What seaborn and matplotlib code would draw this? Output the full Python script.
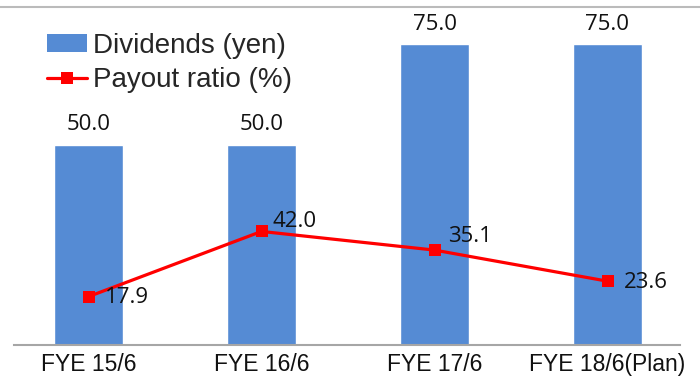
import numpy as np
import matplotlib
matplotlib.use("Agg")
import matplotlib.pyplot as plt
import seaborn as sns
from matplotlib.lines import Line2D
from matplotlib.patches import Patch

# data
categories = ["FYE 15/6", "FYE 16/6", "FYE 17/6", "FYE 18/6(Plan)"]
dividends = [50.0, 50.0, 75.0, 75.0]
payout = [17.9, 42.0, 35.1, 23.6]
# label offsets (points) for the payout labels
payout_offsets = [(12, -1), (8, 7), (10, 10), (12, -1)]

bar_color = "#558BD4"
line_color = "#FF0000"

sns.set_style("white")
plt.rcParams["font.family"] = ["Liberation Sans", "DejaVu Sans"]

fig = plt.figure(figsize=(7, 3.79), dpi=100)
ax = fig.add_axes([2 / 700, 34 / 379, 692 / 700, 338 / 379])

sns.barplot(x=categories, y=dividends, ax=ax, color=bar_color, width=0.4,
            saturation=1)
ax.set_xlim(-0.5, 3.5)
ax.set_ylim(0, 84.3)

for i, v in enumerate(dividends):
    ax.annotate(f"{v:.1f}", (i, v), xytext=(0, 7), textcoords="offset points",
                ha="center", va="bottom", fontsize=16, family="Open Sans",
                color="#111111")

ax2 = ax.twinx()
sns.lineplot(x=np.arange(len(categories)), y=payout, ax=ax2, color=line_color,
             linewidth=2.3, marker="s", markersize=8, markeredgewidth=0)
ax2.set_ylim(0, 125)
for i, v in enumerate(payout):
    ax2.annotate(f"{v:.1f}", (i, v), xytext=payout_offsets[i],
                 textcoords="offset points", ha="left", va="center",
                 fontsize=16, family="Open Sans", color="#111111")

for a in (ax, ax2):
    a.set_yticks([])
    a.set_ylabel("")
    for s in ("left", "right", "top"):
        a.spines[s].set_visible(False)
ax2.spines["bottom"].set_visible(False)

ax.spines["bottom"].set_color("#A6A6A6")
ax.spines["bottom"].set_linewidth(1.5)
ax.spines["bottom"].set_bounds(-0.43, 3.42)
ax.set_xticks(range(len(categories)))
ax.set_xticklabels(categories, fontsize=16.5)
ax.tick_params(axis="x", which="major", length=0, pad=6, colors="#111111")
ax.set_xticks([0.5, 1.5, 2.5], minor=True)
ax.tick_params(axis="x", which="minor", length=6, width=1.3, color="#A6A6A6",
               direction="out")

# thin frame line at the top of the image
fig.add_artist(Line2D([0, 1], [1 - 7 / 379, 1 - 7 / 379], color="#BBBBBB",
                      linewidth=1.5, transform=fig.transFigure))

handles = [Patch(facecolor=bar_color, edgecolor="none"),
           Line2D([], [], color=line_color, linewidth=2.3, marker="s",
                  markersize=8, markeredgewidth=0)]
fig.legend(handles, ["Dividends (yen)", "Payout ratio (%)"],
           loc="upper left", bbox_to_anchor=(47 / 700, 1 - 33 / 379),
           frameon=False, fontsize=20, handlelength=1.45, handleheight=0.6,
           handletextpad=0.2, labelspacing=0.3, borderpad=0,
           borderaxespad=0)

fig.savefig("out.png", dpi=100)
